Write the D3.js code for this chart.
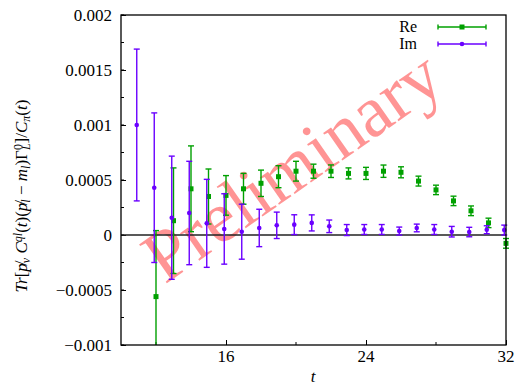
<!DOCTYPE html>
<html>
<head>
<meta charset="utf-8">
<script src="https://cdn.jsdelivr.net/npm/d3@7"></script>
<style>
  body { margin: 0; background: #fff; }
</style>
</head>
<body>
<svg id="chart" width="515" height="385"></svg>
<script>
// Re part, one point per timeslice t
const reT = [12, 13, 14, 15, 16, 17, 18, 19, 20, 21, 22, 23, 24, 25, 26, 27, 28, 29, 30, 31, 32];
const reVal = [-0.00056, 0.00013, 0.00042, 0.00035, 0.00036, 0.00042, 0.00047, 0.00053, 0.00058, 0.00058, 0.00058,
  0.00056, 0.00056, 0.00058, 0.00057, 0.00049, 0.00041, 0.00031, 0.00022, 0.00011, -0.000076];
const reErr = [0.0006, 0.00048, 0.00039, 0.00025, 0.00018, 0.00014, 0.00012, 0.0001, 0.00009, 0.000064, 0.000057,
  0.00005, 0.000055, 0.000056, 0.00005, 0.000045, 0.000043, 0.000043, 0.000044, 0.000043, 0.000044];

// Im part, drawn slightly shifted to the left
const imT = [11, 12, 13, 14, 15, 16, 17, 18, 19, 20, 21, 22, 23, 24, 25, 26, 27, 28, 29, 30, 31, 32];
const imVal = [0.001, 0.00043, 0.000157, 0.0002, 0.000106, 0.000055, 0.00003, 0.000064, 0.000088, 0.000094, 0.00011,
  0.000079, 0.000045, 0.00005, 0.00005, 0.000036, 0.000064, 0.00005, 0.00003, 0.000027, 0.000048, 0.000045];
const imErr = [0.00069, 0.00068, 0.00056, 0.00047, 0.0004, 0.00032, 0.00025, 0.00017, 0.00012, 0.00009, 0.000073,
  0.000057, 0.00005, 0.000045, 0.000045, 0.000036, 0.000035, 0.000045, 0.000048, 0.000043, 0.000036, 0.000045];
const imShift = -0.1;

const xTicks = [16, 24, 32];
const yTicks = [-0.001, -0.0005, 0, 0.0005, 0.001, 0.0015, 0.002];
const yTickLabels = ["\u22120.001", "\u22120.0005", "0", "0.0005", "0.001", "0.0015", "0.002"];

const reColor = "#00a000";
const imColor = "#6a00ff";
const serif = '"Liberation Serif"';

const svg = d3.select("#chart");
const pL = 121, pR = 506, pT = 15, pB = 345;

const x = d3.scaleLinear().domain([10, 32]).range([pL, pR]);
const y = d3.scaleLinear().domain([-0.001, 0.002]).range([pB, pT]);

// watermark goes underneath everything
svg.append("text")
  .attr("transform", "translate(306,186) rotate(-35)")
  .attr("text-anchor", "middle")
  .style("font-family", serif)
  .style("font-size", "73px")
  .style("fill", "#ff0000")
  .style("fill-opacity", 0.42)
  .text("Preliminary");

// minor ticks
const minorY = d3.range(-0.001, 0.002001, 0.00025);
svg.append("g").selectAll("line")
  .data(minorY)
  .join("line")
  .attr("x1", pL).attr("x2", pL + 3)
  .attr("y1", d => y(d)).attr("y2", d => y(d))
  .attr("stroke", "#000");
svg.append("g").selectAll("line")
  .data([12, 20, 28])
  .join("line")
  .attr("x1", d => x(d)).attr("x2", d => x(d))
  .attr("y1", pB).attr("y2", pB - 3)
  .attr("stroke", "#000");

// axes, ticks pointing inward
const yAxis = svg.append("g")
  .attr("transform", `translate(${pL},0)`)
  .call(d3.axisRight(y).tickValues(yTicks).tickSize(5).tickFormat(""));
yAxis.select(".domain").remove();
const xAxis = svg.append("g")
  .attr("transform", `translate(0,${pB})`)
  .call(d3.axisTop(x).tickValues(xTicks).tickSize(5).tickFormat(""));
xAxis.select(".domain").remove();

svg.append("g").selectAll("text")
  .data(yTicks)
  .join("text")
  .attr("x", 112)
  .attr("y", d => y(d))
  .attr("dy", "0.35em")
  .attr("text-anchor", "end")
  .style("font-family", serif)
  .style("font-size", "17px")
  .text((d, i) => yTickLabels[i]);

svg.append("g").selectAll("text")
  .data(xTicks)
  .join("text")
  .attr("x", d => x(d))
  .attr("y", 362)
  .attr("text-anchor", "middle")
  .style("font-family", serif)
  .style("font-size", "17px")
  .text(d => d);

svg.append("text")
  .attr("x", 313).attr("y", 382)
  .attr("text-anchor", "middle")
  .style("font-family", serif)
  .style("font-size", "17px")
  .style("font-style", "italic")
  .text("t");

// zero line
svg.append("line")
  .attr("x1", pL).attr("x2", pR)
  .attr("y1", y(0)).attr("y2", y(0))
  .attr("stroke", "#222").attr("stroke-width", 1.3);

svg.append("clipPath").attr("id", "clip")
  .append("rect").attr("x", pL - 3).attr("y", pT).attr("width", pR - pL + 6).attr("height", pB - pT);

function drawSeries(ts, vals, errs, shift, color, shape) {
  const pts = ts.map((t, i) => ({ t: t + shift, v: vals[i], e: errs[i] }));
  const g = svg.append("g").attr("clip-path", "url(#clip)");
  const bars = g.selectAll("g").data(pts).join("g");
  bars.append("line")
    .attr("x1", d => x(d.t)).attr("x2", d => x(d.t))
    .attr("y1", d => y(d.v - d.e)).attr("y2", d => y(d.v + d.e))
    .attr("stroke", color).attr("stroke-width", 1.4);
  [-1, 1].forEach(s => {
    bars.append("line")
      .attr("x1", d => x(d.t) - 3).attr("x2", d => x(d.t) + 3)
      .attr("y1", d => y(d.v + s * d.e)).attr("y2", d => y(d.v + s * d.e))
      .attr("stroke", color).attr("stroke-width", 1.4);
  });
  if (shape === "square") {
    bars.append("rect")
      .attr("x", d => x(d.t) - 2.5).attr("y", d => y(d.v) - 2.5)
      .attr("width", 5).attr("height", 5)
      .attr("fill", color);
  } else {
    bars.append("circle")
      .attr("cx", d => x(d.t)).attr("cy", d => y(d.v))
      .attr("r", 2.3)
      .attr("fill", color);
  }
}

drawSeries(reT, reVal, reErr, 0, reColor, "square");
drawSeries(imT, imVal, imErr, imShift, imColor, "circle");

// frame
svg.append("rect")
  .attr("x", pL).attr("y", pT)
  .attr("width", pR - pL).attr("height", pB - pT)
  .attr("fill", "none").attr("stroke", "#000").attr("stroke-width", 1.3);

// legend
const legend = [["Re", reColor, "square"], ["Im", imColor, "circle"]];
legend.forEach(([name, color, shape], i) => {
  const ly = 27 + i * 17;
  svg.append("text")
    .attr("x", 417).attr("y", ly).attr("dy", "0.33em")
    .attr("text-anchor", "end")
    .style("font-family", serif)
    .style("font-size", "16px")
    .text(name);
  svg.append("line").attr("x1", 438).attr("x2", 486).attr("y1", ly).attr("y2", ly)
    .attr("stroke", color).attr("stroke-width", 1.4);
  [438, 486].forEach(cx => {
    svg.append("line").attr("x1", cx).attr("x2", cx).attr("y1", ly - 2.5).attr("y2", ly + 2.5)
      .attr("stroke", color).attr("stroke-width", 1.4);
  });
  if (shape === "square") {
    svg.append("rect").attr("x", 459.5).attr("y", ly - 2.5).attr("width", 5).attr("height", 5).attr("fill", color);
  } else {
    svg.append("circle").attr("cx", 462).attr("cy", ly).attr("r", 2.3).attr("fill", color);
  }
});

// y axis label
const ylab = svg.append("text")
  .attr("transform", "translate(27,196) rotate(-90)")
  .attr("text-anchor", "middle")
  .style("font-family", serif)
  .style("font-size", "17px");
const parts = [
  ["Tr", "italic", 0], ["[", "normal", 0], ["p\u0338", "italic", 0], ["\u03bd", "italic", -1],
  [" C", "italic", 0], ["ql", "italic", 1], ["(", "normal", 0], ["t", "italic", 0], [")(", "normal", 0],
  ["p\u0338", "italic", 0], ["l", "italic", -1], [" \u2212 ", "normal", 0], ["m", "italic", 0], ["l", "italic", -1],
  [")\u0393", "normal", 0], ["0", "normal", 1], ["L", "italic", -2], ["]/", "normal", 0], ["C", "italic", 0],
  ["\u03c0", "italic", -1], ["(", "normal", 0], ["t", "italic", 0], [")", "normal", 0]
];
parts.forEach(([txt, style, pos]) => {
  const ts = ylab.append("tspan").style("font-style", style).text(txt);
  if (pos === 1) ts.attr("baseline-shift", "40%").style("font-size", "12px");
  if (pos === -1) ts.attr("baseline-shift", "-25%").style("font-size", "12px");
  if (pos === -2) ts.attr("baseline-shift", "-25%").attr("dx", -6).style("font-size", "12px");
});
</script>
</body>
</html>
